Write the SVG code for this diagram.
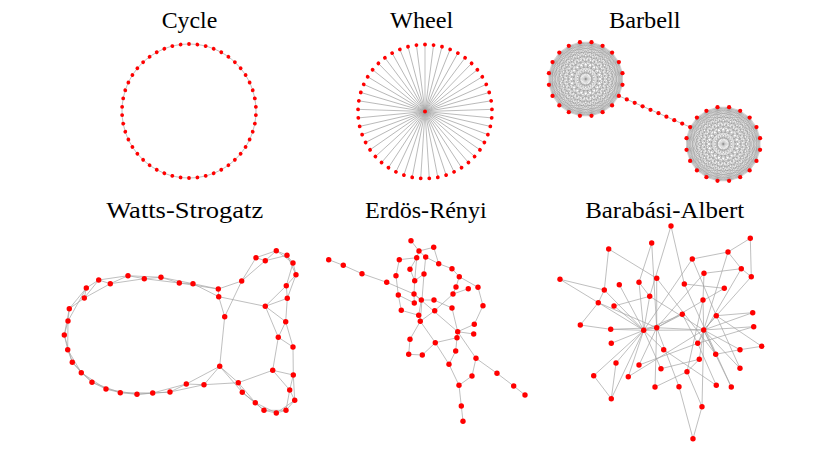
<svg xmlns="http://www.w3.org/2000/svg" xmlns:xlink="http://www.w3.org/1999/xlink" width="830" height="451" viewBox="0 0 830 451">
<style>
.e{stroke:#a3a3a3;stroke-width:.7;fill:none}
.k{stroke:#8a8a8a;stroke-width:.35;fill:none}
.n{fill:#ff0000}
.t{font-family:"Liberation Serif","DejaVu Serif",serif;font-size:24px;fill:#000;text-anchor:middle}
</style>
<defs>
<circle id="cd" class="n" cx="0" cy="-67" r="1.9"/>
<g id="spoke"><line class="e" x1="0" y1="0" x2="0" y2="-67" stroke-width=".55"/><circle class="n" cx="0" cy="-67" r="1.9"/></g>
<path id="kedges" class="k" d="M36.8 5.8L33.2 16.9 26.4 26.4 16.9 33.2 5.8 36.8 -5.8 36.8 -16.9 33.2 -26.4 26.4 -33.2 16.9 -36.8 5.8 -36.8 -5.8 -33.2 -16.9 -26.4 -26.4 -16.9 -33.2 -5.8 -36.8 5.8 -36.8 16.9 -33.2 26.4 -26.4 33.2 -16.9 36.8 -5.8Z
M36.8 5.8L26.4 26.4 5.8 36.8 -16.9 33.2 -33.2 16.9 -36.8 -5.8 -26.4 -26.4 -5.8 -36.8 16.9 -33.2 33.2 -16.9Z
M33.2 16.9L16.9 33.2 -5.8 36.8 -26.4 26.4 -36.8 5.8 -33.2 -16.9 -16.9 -33.2 5.8 -36.8 26.4 -26.4 36.8 -5.8Z
M36.8 5.8L16.9 33.2 -16.9 33.2 -36.8 5.8 -26.4 -26.4 5.8 -36.8 33.2 -16.9 33.2 16.9 5.8 36.8 -26.4 26.4 -36.8 -5.8 -16.9 -33.2 16.9 -33.2 36.8 -5.8 26.4 26.4 -5.8 36.8 -33.2 16.9 -33.2 -16.9 -5.8 -36.8 26.4 -26.4Z
M36.8 5.8L5.8 36.8 -33.2 16.9 -26.4 -26.4 16.9 -33.2Z
M33.2 16.9L-5.8 36.8 -36.8 5.8 -16.9 -33.2 26.4 -26.4Z
M26.4 26.4L-16.9 33.2 -36.8 -5.8 -5.8 -36.8 33.2 -16.9Z
M16.9 33.2L-26.4 26.4 -33.2 -16.9 5.8 -36.8 36.8 -5.8Z
M36.8 5.8L-5.8 36.8 -36.8 -5.8 5.8 -36.8Z
M33.2 16.9L-16.9 33.2 -33.2 -16.9 16.9 -33.2Z
M26.4 26.4L-26.4 26.4 -26.4 -26.4 26.4 -26.4Z
M16.9 33.2L-33.2 16.9 -16.9 -33.2 33.2 -16.9Z
M5.8 36.8L-36.8 5.8 -5.8 -36.8 36.8 -5.8Z
M36.8 5.8L-16.9 33.2 -26.4 -26.4 33.2 -16.9 5.8 36.8 -36.8 -5.8 16.9 -33.2 26.4 26.4 -33.2 16.9 -5.8 -36.8Z
M33.2 16.9L-26.4 26.4 -16.9 -33.2 36.8 -5.8 -5.8 36.8 -33.2 -16.9 26.4 -26.4 16.9 33.2 -36.8 5.8 5.8 -36.8Z
M36.8 5.8L-26.4 26.4 -5.8 -36.8 33.2 16.9 -33.2 16.9 5.8 -36.8 26.4 26.4 -36.8 5.8 16.9 -33.2 16.9 33.2 -36.8 -5.8 26.4 -26.4 5.8 36.8 -33.2 -16.9 33.2 -16.9 -5.8 36.8 -26.4 -26.4 36.8 -5.8 -16.9 33.2 -16.9 -33.2Z
M36.8 5.8L-33.2 16.9 16.9 -33.2 5.8 36.8 -26.4 -26.4Z
M33.2 16.9L-36.8 5.8 26.4 -26.4 -5.8 36.8 -16.9 -33.2Z
M26.4 26.4L-36.8 -5.8 33.2 -16.9 -16.9 33.2 -5.8 -36.8Z
M16.9 33.2L-33.2 -16.9 36.8 -5.8 -26.4 26.4 5.8 -36.8Z
M36.8 5.8L-36.8 5.8 33.2 -16.9 -26.4 26.4 16.9 -33.2 -5.8 36.8 -5.8 -36.8 16.9 33.2 -26.4 -26.4 33.2 16.9 -36.8 -5.8 36.8 -5.8 -33.2 16.9 26.4 -26.4 -16.9 33.2 5.8 -36.8 5.8 36.8 -16.9 -33.2 26.4 26.4 -33.2 -16.9Z
M36.8 5.8L-36.8 -5.8M33.2 16.9L-33.2 -16.9M26.4 26.4L-26.4 -26.4M16.9 33.2L-16.9 -33.2M5.8 36.8L-5.8 -36.8M-5.8 36.8L5.8 -36.8M-16.9 33.2L16.9 -33.2M-26.4 26.4L26.4 -26.4M-33.2 16.9L33.2 -16.9M-36.8 5.8L36.8 -5.8"/>
<g id="knodes" class="n">
<circle cx="36.8" cy="5.8" r="2.1"/><circle cx="33.2" cy="16.9" r="2.1"/><circle cx="26.4" cy="26.4" r="2.1"/><circle cx="16.9" cy="33.2" r="2.1"/><circle cx="5.8" cy="36.8" r="2.1"/><circle cx="-5.8" cy="36.8" r="2.1"/><circle cx="-16.9" cy="33.2" r="2.1"/><circle cx="-26.4" cy="26.4" r="2.1"/><circle cx="-33.2" cy="16.9" r="2.1"/><circle cx="-36.8" cy="5.8" r="2.1"/><circle cx="-36.8" cy="-5.8" r="2.1"/><circle cx="-33.2" cy="-16.9" r="2.1"/><circle cx="-26.4" cy="-26.4" r="2.1"/><circle cx="-16.9" cy="-33.2" r="2.1"/><circle cx="-5.8" cy="-36.8" r="2.1"/><circle cx="5.8" cy="-36.8" r="2.1"/><circle cx="16.9" cy="-33.2" r="2.1"/><circle cx="26.4" cy="-26.4" r="2.1"/><circle cx="33.2" cy="-16.9" r="2.1"/><circle cx="36.8" cy="-5.8" r="2.1"/>
</g>
</defs>
<rect width="830" height="451" fill="#fff"/>

<g id="titles">
<text class="t" x="189.5" y="28" textLength="55.6" lengthAdjust="spacingAndGlyphs">Cycle</text>
<text class="t" x="421.7" y="28" textLength="63.3" lengthAdjust="spacingAndGlyphs">Wheel</text>
<text class="t" x="644.8" y="28" textLength="71.7" lengthAdjust="spacingAndGlyphs">Barbell</text>
<text class="t" x="184.7" y="217.5" textLength="157" lengthAdjust="spacingAndGlyphs">Watts-Strogatz</text>
<text class="t" x="425.8" y="217.5" textLength="121.7" lengthAdjust="spacingAndGlyphs">Erdös-Rényi</text>
<text class="t" x="664.7" y="217.5" textLength="159" lengthAdjust="spacingAndGlyphs">Barabási-Albert</text>
</g>

<g id="cycle" transform="translate(189,111)">
<g id="cycle-edges"><circle class="e" cx="0" cy="0" r="67"/></g>
<g id="cycle-nodes">
<use href="#cd" transform="rotate(0)"/><use href="#cd" transform="rotate(7.2)"/><use href="#cd" transform="rotate(14.4)"/><use href="#cd" transform="rotate(21.6)"/><use href="#cd" transform="rotate(28.8)"/><use href="#cd" transform="rotate(36)"/><use href="#cd" transform="rotate(43.2)"/><use href="#cd" transform="rotate(50.4)"/><use href="#cd" transform="rotate(57.6)"/><use href="#cd" transform="rotate(64.8)"/><use href="#cd" transform="rotate(72)"/><use href="#cd" transform="rotate(79.2)"/><use href="#cd" transform="rotate(86.4)"/><use href="#cd" transform="rotate(93.6)"/><use href="#cd" transform="rotate(100.8)"/><use href="#cd" transform="rotate(108)"/><use href="#cd" transform="rotate(115.2)"/><use href="#cd" transform="rotate(122.4)"/><use href="#cd" transform="rotate(129.6)"/><use href="#cd" transform="rotate(136.8)"/><use href="#cd" transform="rotate(144)"/><use href="#cd" transform="rotate(151.2)"/><use href="#cd" transform="rotate(158.4)"/><use href="#cd" transform="rotate(165.6)"/><use href="#cd" transform="rotate(172.8)"/><use href="#cd" transform="rotate(180)"/><use href="#cd" transform="rotate(187.2)"/><use href="#cd" transform="rotate(194.4)"/><use href="#cd" transform="rotate(201.6)"/><use href="#cd" transform="rotate(208.8)"/><use href="#cd" transform="rotate(216)"/><use href="#cd" transform="rotate(223.2)"/><use href="#cd" transform="rotate(230.4)"/><use href="#cd" transform="rotate(237.6)"/><use href="#cd" transform="rotate(244.8)"/><use href="#cd" transform="rotate(252)"/><use href="#cd" transform="rotate(259.2)"/><use href="#cd" transform="rotate(266.4)"/><use href="#cd" transform="rotate(273.6)"/><use href="#cd" transform="rotate(280.8)"/><use href="#cd" transform="rotate(288)"/><use href="#cd" transform="rotate(295.2)"/><use href="#cd" transform="rotate(302.4)"/><use href="#cd" transform="rotate(309.6)"/><use href="#cd" transform="rotate(316.8)"/><use href="#cd" transform="rotate(324)"/><use href="#cd" transform="rotate(331.2)"/><use href="#cd" transform="rotate(338.4)"/><use href="#cd" transform="rotate(345.6)"/><use href="#cd" transform="rotate(352.8)"/>
</g>
</g>

<g id="wheel" transform="translate(425,111.5)">
<use href="#spoke" transform="rotate(0)"/><use href="#spoke" transform="rotate(7.347)"/><use href="#spoke" transform="rotate(14.694)"/><use href="#spoke" transform="rotate(22.041)"/><use href="#spoke" transform="rotate(29.388)"/><use href="#spoke" transform="rotate(36.735)"/><use href="#spoke" transform="rotate(44.082)"/><use href="#spoke" transform="rotate(51.429)"/><use href="#spoke" transform="rotate(58.776)"/><use href="#spoke" transform="rotate(66.122)"/><use href="#spoke" transform="rotate(73.469)"/><use href="#spoke" transform="rotate(80.816)"/><use href="#spoke" transform="rotate(88.163)"/><use href="#spoke" transform="rotate(95.51)"/><use href="#spoke" transform="rotate(102.857)"/><use href="#spoke" transform="rotate(110.204)"/><use href="#spoke" transform="rotate(117.551)"/><use href="#spoke" transform="rotate(124.898)"/><use href="#spoke" transform="rotate(132.245)"/><use href="#spoke" transform="rotate(139.592)"/><use href="#spoke" transform="rotate(146.939)"/><use href="#spoke" transform="rotate(154.286)"/><use href="#spoke" transform="rotate(161.633)"/><use href="#spoke" transform="rotate(168.98)"/><use href="#spoke" transform="rotate(176.327)"/><use href="#spoke" transform="rotate(183.673)"/><use href="#spoke" transform="rotate(191.02)"/><use href="#spoke" transform="rotate(198.367)"/><use href="#spoke" transform="rotate(205.714)"/><use href="#spoke" transform="rotate(213.061)"/><use href="#spoke" transform="rotate(220.408)"/><use href="#spoke" transform="rotate(227.755)"/><use href="#spoke" transform="rotate(235.102)"/><use href="#spoke" transform="rotate(242.449)"/><use href="#spoke" transform="rotate(249.796)"/><use href="#spoke" transform="rotate(257.143)"/><use href="#spoke" transform="rotate(264.49)"/><use href="#spoke" transform="rotate(271.837)"/><use href="#spoke" transform="rotate(279.184)"/><use href="#spoke" transform="rotate(286.531)"/><use href="#spoke" transform="rotate(293.878)"/><use href="#spoke" transform="rotate(301.224)"/><use href="#spoke" transform="rotate(308.571)"/><use href="#spoke" transform="rotate(315.918)"/><use href="#spoke" transform="rotate(323.265)"/><use href="#spoke" transform="rotate(330.612)"/><use href="#spoke" transform="rotate(337.959)"/><use href="#spoke" transform="rotate(345.306)"/><use href="#spoke" transform="rotate(352.653)"/>
<circle id="wheel-hub" class="n" cx="0" cy="0" r="2"/>
</g>

<g id="barbell">
<g id="barbell-edges">
<use href="#kedges" transform="translate(585.7,79)"/>
<use href="#kedges" transform="translate(723.3,144)"/>
<line class="e" x1="618.9" y1="95.9" x2="690.1" y2="127.1"/>
</g>
<g id="barbell-nodes" class="n">
<use href="#knodes" transform="translate(585.7,79)"/>
<use href="#knodes" transform="translate(723.3,144)"/>
<circle cx="626.8" cy="99.4" r="2.1"/><circle cx="634.7" cy="102.8" r="2.1"/><circle cx="642.6" cy="106.3" r="2.1"/><circle cx="650.5" cy="109.8" r="2.1"/><circle cx="658.5" cy="113.2" r="2.1"/><circle cx="666.4" cy="116.7" r="2.1"/><circle cx="674.3" cy="120.2" r="2.1"/><circle cx="682.2" cy="123.6" r="2.1"/>
</g>
</g>

<g id="watts-strogatz">
<g id="ws-edges" class="e">
<line x1="204" y1="384.7" x2="186.3" y2="384"/><line x1="186.3" y1="384" x2="170" y2="392"/><line x1="170" y1="392" x2="152.7" y2="393"/><line x1="152.7" y1="393" x2="137" y2="394.3"/><line x1="137" y1="394.3" x2="120.3" y2="392.7"/><line x1="120.3" y1="392.7" x2="106" y2="389"/><line x1="106" y1="389" x2="92" y2="382.3"/><line x1="92" y1="382.3" x2="81.3" y2="372.7"/><line x1="81.3" y1="372.7" x2="72.3" y2="362.3"/><line x1="72.3" y1="362.3" x2="67.7" y2="349.7"/><line x1="67.7" y1="349.7" x2="64.3" y2="335"/><line x1="64.3" y1="335" x2="68" y2="321"/><line x1="68" y1="321" x2="69.3" y2="308.7"/><line x1="69.3" y1="308.7" x2="86.3" y2="288"/><line x1="86.3" y1="288" x2="84.3" y2="298"/><line x1="84.3" y1="298" x2="98.7" y2="280"/><line x1="98.7" y1="280" x2="110.3" y2="283.7"/><line x1="110.3" y1="283.7" x2="128" y2="275.7"/><line x1="128" y1="275.7" x2="144.3" y2="278.7"/><line x1="144.3" y1="278.7" x2="161" y2="277.3"/><line x1="161" y1="277.3" x2="179.3" y2="283"/><line x1="179.3" y1="283" x2="193" y2="283.7"/><line x1="193" y1="283.7" x2="218.3" y2="289"/><line x1="218.3" y1="289" x2="218.7" y2="296.7"/>
<line x1="241.7" y1="281" x2="256" y2="257.7"/><line x1="256" y1="257.7" x2="265.3" y2="260.7"/><line x1="265.3" y1="260.7" x2="276.3" y2="250.7"/><line x1="276.3" y1="250.7" x2="287" y2="255.3"/><line x1="287" y1="255.3" x2="293" y2="263"/><line x1="293" y1="263" x2="296" y2="274.7"/><line x1="296" y1="274.7" x2="286.3" y2="285.7"/><line x1="286.3" y1="285.7" x2="287.3" y2="298.3"/><line x1="287.3" y1="298.3" x2="265.3" y2="306.3"/><line x1="265.3" y1="306.3" x2="285.7" y2="321.7"/><line x1="285.7" y1="321.7" x2="278.3" y2="337.3"/><line x1="278.3" y1="337.3" x2="293" y2="347"/>
<line x1="272.7" y1="370.3" x2="293.3" y2="375"/><line x1="293.3" y1="375" x2="289.7" y2="390"/><line x1="289.7" y1="390" x2="294.7" y2="400.3"/><line x1="294.7" y1="400.3" x2="286" y2="410.3"/><line x1="286" y1="410.3" x2="276.3" y2="413"/><line x1="276.3" y1="413" x2="264" y2="410.3"/><line x1="264" y1="410.3" x2="255.3" y2="402.7"/><line x1="255.3" y1="402.7" x2="242.3" y2="392.3"/><line x1="242.3" y1="392.3" x2="238.3" y2="382.7"/><line x1="238.3" y1="382.7" x2="219.7" y2="366.3"/><line x1="219.7" y1="366.3" x2="204" y2="384.7"/>
<line x1="204" y1="384.7" x2="170" y2="392"/><line x1="186.3" y1="384" x2="152.7" y2="393"/><line x1="170" y1="392" x2="137" y2="394.3"/><line x1="152.7" y1="393" x2="120.3" y2="392.7"/><line x1="137" y1="394.3" x2="106" y2="389"/><line x1="120.3" y1="392.7" x2="92" y2="382.3"/><line x1="106" y1="389" x2="81.3" y2="372.7"/><line x1="92" y1="382.3" x2="72.3" y2="362.3"/><line x1="81.3" y1="372.7" x2="67.7" y2="349.7"/><line x1="72.3" y1="362.3" x2="64.3" y2="335"/><line x1="67.7" y1="349.7" x2="68" y2="321"/><line x1="64.3" y1="335" x2="69.3" y2="308.7"/><line x1="68" y1="321" x2="86.3" y2="288"/><line x1="69.3" y1="308.7" x2="84.3" y2="298"/><line x1="86.3" y1="288" x2="98.7" y2="280"/><line x1="84.3" y1="298" x2="110.3" y2="283.7"/><line x1="98.7" y1="280" x2="128" y2="275.7"/><line x1="110.3" y1="283.7" x2="144.3" y2="278.7"/><line x1="128" y1="275.7" x2="161" y2="277.3"/><line x1="144.3" y1="278.7" x2="179.3" y2="283"/><line x1="161" y1="277.3" x2="193" y2="283.7"/><line x1="179.3" y1="283" x2="218.3" y2="289"/><line x1="193" y1="283.7" x2="218.7" y2="296.7"/><line x1="218.3" y1="289" x2="241.7" y2="281"/>
<line x1="241.7" y1="281" x2="265.3" y2="260.7"/><line x1="256" y1="257.7" x2="276.3" y2="250.7"/><line x1="265.3" y1="260.7" x2="287" y2="255.3"/><line x1="276.3" y1="250.7" x2="293" y2="263"/><line x1="287" y1="255.3" x2="296" y2="274.7"/><line x1="293" y1="263" x2="286.3" y2="285.7"/><line x1="296" y1="274.7" x2="287.3" y2="298.3"/><line x1="286.3" y1="285.7" x2="265.3" y2="306.3"/><line x1="287.3" y1="298.3" x2="285.7" y2="321.7"/><line x1="265.3" y1="306.3" x2="278.3" y2="337.3"/><line x1="285.7" y1="321.7" x2="293" y2="347"/><line x1="278.3" y1="337.3" x2="272.7" y2="370.3"/><line x1="293" y1="347" x2="293.3" y2="375"/><line x1="293.3" y1="375" x2="294.7" y2="400.3"/><line x1="289.7" y1="390" x2="286" y2="410.3"/><line x1="294.7" y1="400.3" x2="276.3" y2="413"/><line x1="286" y1="410.3" x2="264" y2="410.3"/><line x1="276.3" y1="413" x2="255.3" y2="402.7"/><line x1="264" y1="410.3" x2="242.3" y2="392.3"/><line x1="255.3" y1="402.7" x2="238.3" y2="382.7"/><line x1="242.3" y1="392.3" x2="219.7" y2="366.3"/><line x1="238.3" y1="382.7" x2="204" y2="384.7"/><line x1="219.7" y1="366.3" x2="186.3" y2="384"/>
<line x1="218.7" y1="296.7" x2="224.7" y2="316.7"/><line x1="224.7" y1="316.7" x2="241.7" y2="281"/><line x1="224.7" y1="316.7" x2="219.7" y2="366.3"/><line x1="218.7" y1="296.7" x2="265.3" y2="306.3"/><line x1="272.7" y1="370.3" x2="238.3" y2="382.7"/><line x1="272.7" y1="370.3" x2="289.7" y2="390"/>
</g>
<g id="ws-nodes" class="n">
<circle id="w0" cx="204" cy="384.7" r="2.7"/><circle id="w1" cx="186.3" cy="384" r="2.7"/><circle id="w2" cx="170" cy="392" r="2.7"/><circle id="w3" cx="152.7" cy="393" r="2.7"/><circle id="w4" cx="137" cy="394.3" r="2.7"/><circle id="w5" cx="120.3" cy="392.7" r="2.7"/><circle id="w6" cx="106" cy="389" r="2.7"/><circle id="w7" cx="92" cy="382.3" r="2.7"/><circle id="w8" cx="81.3" cy="372.7" r="2.7"/><circle id="w9" cx="72.3" cy="362.3" r="2.7"/><circle id="w10" cx="67.7" cy="349.7" r="2.7"/><circle id="w11" cx="64.3" cy="335" r="2.7"/><circle id="w12" cx="68" cy="321" r="2.7"/><circle id="w13" cx="69.3" cy="308.7" r="2.7"/><circle id="w14" cx="86.3" cy="288" r="2.7"/><circle id="w15" cx="84.3" cy="298" r="2.7"/><circle id="w16" cx="98.7" cy="280" r="2.7"/><circle id="w17" cx="110.3" cy="283.7" r="2.7"/><circle id="w18" cx="128" cy="275.7" r="2.7"/><circle id="w19" cx="144.3" cy="278.7" r="2.7"/><circle id="w20" cx="161" cy="277.3" r="2.7"/><circle id="w21" cx="179.3" cy="283" r="2.7"/><circle id="w22" cx="193" cy="283.7" r="2.7"/><circle id="w23" cx="218.3" cy="289" r="2.7"/><circle id="w24" cx="218.7" cy="296.7" r="2.7"/><circle id="w25" cx="241.7" cy="281" r="2.7"/><circle id="w26" cx="256" cy="257.7" r="2.7"/><circle id="w27" cx="265.3" cy="260.7" r="2.7"/><circle id="w28" cx="276.3" cy="250.7" r="2.7"/><circle id="w29" cx="287" cy="255.3" r="2.7"/><circle id="w30" cx="293" cy="263" r="2.7"/><circle id="w31" cx="296" cy="274.7" r="2.7"/><circle id="w32" cx="286.3" cy="285.7" r="2.7"/><circle id="w33" cx="287.3" cy="298.3" r="2.7"/><circle id="w34" cx="265.3" cy="306.3" r="2.7"/><circle id="w35" cx="285.7" cy="321.7" r="2.7"/><circle id="w36" cx="278.3" cy="337.3" r="2.7"/><circle id="w37" cx="293" cy="347" r="2.7"/><circle id="w38" cx="272.7" cy="370.3" r="2.7"/><circle id="w39" cx="293.3" cy="375" r="2.7"/><circle id="w40" cx="289.7" cy="390" r="2.7"/><circle id="w41" cx="294.7" cy="400.3" r="2.7"/><circle id="w42" cx="286" cy="410.3" r="2.7"/><circle id="w43" cx="276.3" cy="413" r="2.7"/><circle id="w44" cx="264" cy="410.3" r="2.7"/><circle id="w45" cx="255.3" cy="402.7" r="2.7"/><circle id="w46" cx="242.3" cy="392.3" r="2.7"/><circle id="w47" cx="238.3" cy="382.7" r="2.7"/><circle id="w48" cx="219.7" cy="366.3" r="2.7"/><circle id="w49" cx="224.7" cy="316.7" r="2.7"/>
</g>
</g>

<g id="erdos-renyi">
<g id="er-edges" class="e">
<line x1="411" y1="240.7" x2="419" y2="251"/><line x1="419" y1="251" x2="433.7" y2="247.3"/><line x1="419" y1="251" x2="416.7" y2="257.7"/><line x1="433.7" y1="247.3" x2="438.7" y2="263.7"/><line x1="416.7" y1="257.7" x2="399.3" y2="259.7"/><line x1="399.3" y1="259.7" x2="396" y2="275.7"/><line x1="416.7" y1="257.7" x2="410" y2="269.3"/><line x1="416.7" y1="257.7" x2="414.7" y2="280.7"/><line x1="425.7" y1="257" x2="438.7" y2="263.7"/><line x1="425.7" y1="257" x2="424" y2="274"/><line x1="424" y1="274" x2="420.3" y2="321.3"/><line x1="438.7" y1="263.7" x2="452" y2="268.7"/><line x1="452" y1="268.7" x2="459.3" y2="276.7"/><line x1="459.3" y1="276.7" x2="478" y2="287.3"/><line x1="478" y1="287.3" x2="483" y2="305.7"/><line x1="483" y1="305.7" x2="474.3" y2="324.3"/><line x1="474.3" y1="324.3" x2="457.7" y2="331.7"/><line x1="459.3" y1="276.7" x2="456" y2="287"/><line x1="456" y1="287" x2="453" y2="294"/><line x1="468.3" y1="288.7" x2="453" y2="294"/><line x1="453" y1="294" x2="434.7" y2="310.7"/><line x1="396" y1="275.7" x2="398.3" y2="295"/><line x1="398.3" y1="295" x2="414.3" y2="303"/><line x1="401.3" y1="310.3" x2="418.7" y2="315.3"/><line x1="398.3" y1="295" x2="401.3" y2="310.3"/><line x1="414.7" y1="280.7" x2="414" y2="294"/><line x1="414" y1="294" x2="414.3" y2="303"/><line x1="414" y1="294" x2="421.3" y2="300"/><line x1="421.3" y1="300" x2="434" y2="300"/><line x1="421.3" y1="300" x2="418.7" y2="315.3"/><line x1="434" y1="300" x2="452" y2="308"/><line x1="434.7" y1="310.7" x2="420.3" y2="321.3"/><line x1="328.7" y1="259.7" x2="343.3" y2="265.3"/><line x1="343.3" y1="265.3" x2="362" y2="273.7"/><line x1="362" y1="273.7" x2="386.7" y2="282.3"/><line x1="386.7" y1="282.3" x2="414" y2="294"/><line x1="414" y1="294" x2="457.7" y2="331.7"/><line x1="420.3" y1="321.3" x2="410" y2="339.3"/><line x1="410" y1="339.3" x2="408.7" y2="354.3"/><line x1="408.7" y1="354.3" x2="422.3" y2="355"/><line x1="422.3" y1="355" x2="435.3" y2="342.7"/><line x1="435.3" y1="342.7" x2="457" y2="337.7"/><line x1="420.3" y1="321.3" x2="435.3" y2="342.7"/><line x1="435.3" y1="342.7" x2="449" y2="364.3"/><line x1="449" y1="364.3" x2="459" y2="385.3"/><line x1="459" y1="385.3" x2="472" y2="376"/><line x1="472" y1="376" x2="476" y2="358.3"/><line x1="476" y1="358.3" x2="457.7" y2="331.7"/><line x1="476" y1="358.3" x2="497" y2="373.3"/><line x1="497" y1="373.3" x2="513.7" y2="386"/><line x1="513.7" y1="386" x2="525" y2="395"/><line x1="459" y1="385.3" x2="461.3" y2="406"/><line x1="461.3" y1="406" x2="463" y2="421.3"/><line x1="457.7" y1="331.7" x2="457" y2="337.7"/><line x1="457.7" y1="331.7" x2="473.7" y2="334"/><line x1="457" y1="337.7" x2="455.7" y2="351"/><line x1="457.7" y1="331.7" x2="452" y2="308"/><line x1="424" y1="274" x2="414.7" y2="280.7"/><line x1="410" y1="269.3" x2="414.7" y2="280.7"/><line x1="419" y1="251" x2="425.7" y2="257"/><line x1="418.7" y1="315.3" x2="420.3" y2="321.3"/><line x1="455.7" y1="351" x2="449" y2="364.3"/>
</g>
<g id="er-nodes" class="n">
<circle id="e1" cx="411" cy="240.7" r="2.7"/><circle id="e2" cx="328.7" cy="259.7" r="2.7"/><circle id="e3" cx="343.3" cy="265.3" r="2.7"/><circle id="e4" cx="362" cy="273.7" r="2.7"/><circle id="e5" cx="386.7" cy="282.3" r="2.7"/><circle id="e6" cx="399.3" cy="259.7" r="2.7"/><circle id="e7" cx="419" cy="251" r="2.7"/><circle id="e8" cx="433.7" cy="247.3" r="2.7"/><circle id="e9" cx="416.7" cy="257.7" r="2.7"/><circle id="e10" cx="425.7" cy="257" r="2.7"/><circle id="e11" cx="410" cy="269.3" r="2.7"/><circle id="e12" cx="396" cy="275.7" r="2.7"/><circle id="e13" cx="438.7" cy="263.7" r="2.7"/><circle id="e14" cx="424" cy="274" r="2.7"/><circle id="e15" cx="414.7" cy="280.7" r="2.7"/><circle id="e16" cx="452" cy="268.7" r="2.7"/><circle id="e17" cx="459.3" cy="276.7" r="2.7"/><circle id="e18" cx="456" cy="287" r="2.7"/><circle id="e19" cx="468.3" cy="288.7" r="2.7"/><circle id="e20" cx="478" cy="287.3" r="2.7"/><circle id="e21" cx="398.3" cy="295" r="2.7"/><circle id="e22" cx="414" cy="294" r="2.7"/><circle id="e23" cx="414.3" cy="303" r="2.7"/><circle id="e24" cx="421.3" cy="300" r="2.7"/><circle id="e25" cx="434" cy="300" r="2.7"/><circle id="e26" cx="453" cy="294" r="2.7"/><circle id="e27" cx="483" cy="305.7" r="2.7"/><circle id="e28" cx="401.3" cy="310.3" r="2.7"/><circle id="e29" cx="434.7" cy="310.7" r="2.7"/><circle id="e30" cx="452" cy="308" r="2.7"/><circle id="e31" cx="418.7" cy="315.3" r="2.7"/><circle id="e32" cx="420.3" cy="321.3" r="2.7"/><circle id="e33" cx="474.3" cy="324.3" r="2.7"/><circle id="e34" cx="457.7" cy="331.7" r="2.7"/><circle id="e35" cx="473.7" cy="334" r="2.7"/><circle id="e36" cx="457" cy="337.7" r="2.7"/><circle id="e37" cx="410" cy="339.3" r="2.7"/><circle id="e38" cx="435.3" cy="342.7" r="2.7"/><circle id="e39" cx="455.7" cy="351" r="2.7"/><circle id="e40" cx="408.7" cy="354.3" r="2.7"/><circle id="e41" cx="422.3" cy="355" r="2.7"/><circle id="e42" cx="476" cy="358.3" r="2.7"/><circle id="e43" cx="449" cy="364.3" r="2.7"/><circle id="e44" cx="472" cy="376" r="2.7"/><circle id="e45" cx="497" cy="373.3" r="2.7"/><circle id="e46" cx="459" cy="385.3" r="2.7"/><circle id="e47" cx="513.7" cy="386" r="2.7"/><circle id="e48" cx="525" cy="395" r="2.7"/><circle id="e49" cx="461.3" cy="406" r="2.7"/><circle id="e50" cx="463" cy="421.3" r="2.7"/>
</g>
</g>

<g id="barabasi-albert">
<g id="ba-edges" class="e">
<line x1="671" y1="226" x2="649.7" y2="296.3"/><line x1="671" y1="226" x2="684.3" y2="284"/><line x1="750.3" y1="238.3" x2="728" y2="252"/><line x1="750.3" y1="238.3" x2="751.3" y2="276.7"/><line x1="608.7" y1="249" x2="604.3" y2="290"/><line x1="608.7" y1="249" x2="656.7" y2="278.3"/><line x1="651.7" y1="243" x2="639" y2="282.3"/><line x1="651.7" y1="243" x2="656.7" y2="327.7"/><line x1="728" y1="252" x2="692.3" y2="259"/><line x1="728" y1="252" x2="741.3" y2="268.7"/><line x1="728" y1="252" x2="703.7" y2="330"/><line x1="692.3" y1="259" x2="716.3" y2="315.7"/><line x1="692.3" y1="259" x2="643.7" y2="330.3"/><line x1="741.3" y1="268.7" x2="704" y2="273.3"/><line x1="741.3" y1="268.7" x2="751.3" y2="276.7"/><line x1="741.3" y1="268.7" x2="697.7" y2="343.3"/><line x1="751.3" y1="276.7" x2="703.7" y2="330"/><line x1="704" y1="273.3" x2="656.7" y2="327.7"/><line x1="704" y1="273.3" x2="703" y2="300"/><line x1="560" y1="279.3" x2="604.3" y2="290"/><line x1="560" y1="279.3" x2="643.7" y2="330.3"/><line x1="656.7" y1="278.3" x2="656.7" y2="327.7"/><line x1="656.7" y1="278.3" x2="715.7" y2="354.3"/><line x1="639" y1="282.3" x2="643.7" y2="330.3"/><line x1="639" y1="282.3" x2="649.7" y2="296.3"/><line x1="619.3" y1="284.7" x2="643.7" y2="330.3"/><line x1="684.3" y1="284" x2="724.3" y2="288.3"/><line x1="684.3" y1="284" x2="731.3" y2="387"/><line x1="604.3" y1="290" x2="598.3" y2="302.7"/><line x1="604.3" y1="290" x2="643.7" y2="330.3"/><line x1="649.7" y1="296.3" x2="614" y2="306"/><line x1="649.7" y1="296.3" x2="643.7" y2="330.3"/><line x1="649.7" y1="296.3" x2="703.7" y2="330"/><line x1="703" y1="300" x2="703.7" y2="330"/><line x1="703" y1="300" x2="687" y2="371.7"/><line x1="598.3" y1="302.7" x2="580.3" y2="325"/><line x1="598.3" y1="302.7" x2="656.7" y2="327.7"/><line x1="614" y1="306" x2="643.7" y2="330.3"/><line x1="682.3" y1="314.3" x2="643.7" y2="330.3"/><line x1="682.3" y1="314.3" x2="656.7" y2="327.7"/><line x1="682.3" y1="314.3" x2="697.7" y2="343.3"/><line x1="716.3" y1="315.7" x2="703.7" y2="330"/><line x1="716.3" y1="315.7" x2="752.7" y2="312.7"/><line x1="716.3" y1="315.7" x2="761.7" y2="346.3"/><line x1="716.3" y1="315.7" x2="740" y2="368.3"/><line x1="752.7" y1="312.7" x2="703.7" y2="330"/><line x1="580.3" y1="325" x2="610.7" y2="329.3"/><line x1="610.7" y1="329.3" x2="643.7" y2="330.3"/><line x1="610.7" y1="329.3" x2="656.7" y2="327.7"/><line x1="643.7" y1="330.3" x2="656.7" y2="327.7"/><line x1="643.7" y1="330.3" x2="703.7" y2="330"/><line x1="656.7" y1="327.7" x2="703.7" y2="330"/><line x1="753.7" y1="326.7" x2="703.7" y2="330"/><line x1="753.7" y1="326.7" x2="697.7" y2="343.3"/><line x1="611.3" y1="343.3" x2="643.7" y2="330.3"/><line x1="697.7" y1="343.3" x2="703.7" y2="330"/><line x1="697.7" y1="343.3" x2="639" y2="365"/><line x1="761.7" y1="346.3" x2="740" y2="349.7"/><line x1="663.7" y1="349.7" x2="643.7" y2="330.3"/><line x1="663.7" y1="349.7" x2="716.3" y2="385.3"/><line x1="740" y1="349.7" x2="703.7" y2="330"/><line x1="740" y1="349.7" x2="715.7" y2="354.3"/><line x1="715.7" y1="354.3" x2="703.7" y2="330"/><line x1="616" y1="363" x2="643.7" y2="330.3"/><line x1="616" y1="363" x2="611.3" y2="398.7"/><line x1="639" y1="365" x2="656.7" y2="327.7"/><line x1="699.3" y1="359.3" x2="703.7" y2="330"/><line x1="699.3" y1="359.3" x2="687" y2="371.7"/><line x1="661" y1="368.7" x2="643.7" y2="330.3"/><line x1="661" y1="368.7" x2="699.3" y2="359.3"/><line x1="740" y1="368.3" x2="703.7" y2="330"/><line x1="687" y1="371.7" x2="702" y2="406.7"/><line x1="687" y1="371.7" x2="655" y2="387"/><line x1="593.7" y1="375.7" x2="643.7" y2="330.3"/><line x1="593.7" y1="375.7" x2="611.3" y2="398.7"/><line x1="628.3" y1="376.7" x2="643.7" y2="330.3"/><line x1="628.3" y1="376.7" x2="703.7" y2="330"/><line x1="655" y1="387" x2="656.7" y2="327.7"/><line x1="679" y1="386.7" x2="656.7" y2="327.7"/><line x1="679" y1="386.7" x2="693" y2="438.7"/><line x1="716.3" y1="385.3" x2="697.7" y2="343.3"/><line x1="731.3" y1="387" x2="703.7" y2="330"/><line x1="611.3" y1="398.7" x2="643.7" y2="330.3"/><line x1="702" y1="406.7" x2="693" y2="438.7"/><line x1="702" y1="406.7" x2="703.7" y2="330"/><line x1="724.3" y1="288.3" x2="656.7" y2="327.7"/>
</g>
<g id="ba-nodes" class="n">
<circle id="b1" cx="671" cy="226" r="2.7"/><circle id="b2" cx="750.3" cy="238.3" r="2.7"/><circle id="b3" cx="608.7" cy="249" r="2.7"/><circle id="b4" cx="651.7" cy="243" r="2.7"/><circle id="b5" cx="728" cy="252" r="2.7"/><circle id="b6" cx="692.3" cy="259" r="2.7"/><circle id="b7" cx="741.3" cy="268.7" r="2.7"/><circle id="b8" cx="751.3" cy="276.7" r="2.7"/><circle id="b9" cx="704" cy="273.3" r="2.7"/><circle id="b10" cx="560" cy="279.3" r="2.7"/><circle id="b11" cx="656.7" cy="278.3" r="2.7"/><circle id="b12" cx="639" cy="282.3" r="2.7"/><circle id="b13" cx="619.3" cy="284.7" r="2.7"/><circle id="b14" cx="684.3" cy="284" r="2.7"/><circle id="b15" cx="724.3" cy="288.3" r="2.7"/><circle id="b16" cx="604.3" cy="290" r="2.7"/><circle id="b17" cx="649.7" cy="296.3" r="2.7"/><circle id="b18" cx="703" cy="300" r="2.7"/><circle id="b19" cx="598.3" cy="302.7" r="2.7"/><circle id="b20" cx="614" cy="306" r="2.7"/><circle id="b21" cx="682.3" cy="314.3" r="2.7"/><circle id="b22" cx="716.3" cy="315.7" r="2.7"/><circle id="b23" cx="752.7" cy="312.7" r="2.7"/><circle id="b24" cx="580.3" cy="325" r="2.7"/><circle id="b25" cx="610.7" cy="329.3" r="2.7"/><circle id="b26" cx="643.7" cy="330.3" r="2.7"/><circle id="b27" cx="656.7" cy="327.7" r="2.7"/><circle id="b28" cx="703.7" cy="330" r="2.7"/><circle id="b29" cx="753.7" cy="326.7" r="2.7"/><circle id="b30" cx="611.3" cy="343.3" r="2.7"/><circle id="b31" cx="697.7" cy="343.3" r="2.7"/><circle id="b32" cx="761.7" cy="346.3" r="2.7"/><circle id="b33" cx="663.7" cy="349.7" r="2.7"/><circle id="b34" cx="740" cy="349.7" r="2.7"/><circle id="b35" cx="715.7" cy="354.3" r="2.7"/><circle id="b36" cx="616" cy="363" r="2.7"/><circle id="b37" cx="639" cy="365" r="2.7"/><circle id="b38" cx="699.3" cy="359.3" r="2.7"/><circle id="b39" cx="661" cy="368.7" r="2.7"/><circle id="b40" cx="740" cy="368.3" r="2.7"/><circle id="b41" cx="687" cy="371.7" r="2.7"/><circle id="b42" cx="593.7" cy="375.7" r="2.7"/><circle id="b43" cx="628.3" cy="376.7" r="2.7"/><circle id="b44" cx="655" cy="387" r="2.7"/><circle id="b45" cx="679" cy="386.7" r="2.7"/><circle id="b46" cx="716.3" cy="385.3" r="2.7"/><circle id="b47" cx="731.3" cy="387" r="2.7"/><circle id="b48" cx="611.3" cy="398.7" r="2.7"/><circle id="b49" cx="702" cy="406.7" r="2.7"/><circle id="b50" cx="693" cy="438.7" r="2.7"/>
</g>
</g>
</svg>
